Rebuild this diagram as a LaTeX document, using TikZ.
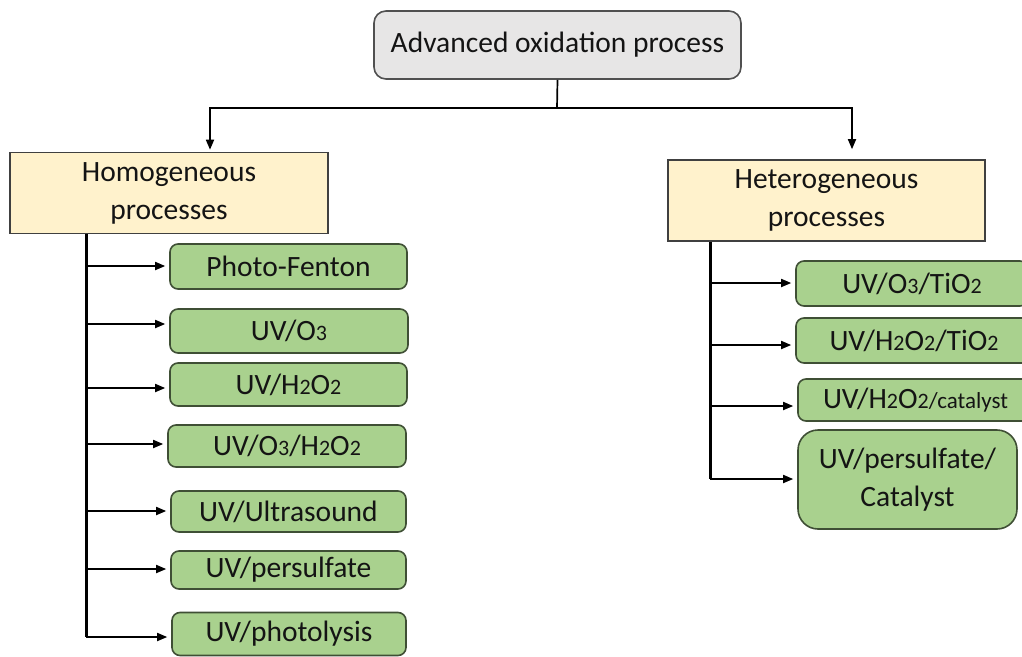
\documentclass[tikz,border=0pt]{standalone}
\usepackage{fontspec}
\setmainfont{Carlito}
\usetikzlibrary{arrows.meta}
\definecolor{grayfill}{HTML}{E7E6E6}
\definecolor{graybd}{HTML}{505050}
\definecolor{yel}{HTML}{FFF2CC}
\definecolor{yelbd}{HTML}{404040}
\definecolor{grn}{HTML}{A9D18E}
\definecolor{grnbd}{HTML}{3F4F35}
\definecolor{txt}{HTML}{141414}
\newcommand{\sm}[1]{{\fontsize{22}{22}\selectfont #1}}
\newcommand{\smc}[1]{{\fontsize{23}{23}\selectfont #1}}
\begin{document}
\begin{tikzpicture}[x=1pt,y=-1pt,
  base/.style={draw, line width=1.6pt, align=center, inner sep=0pt,
    font=\fontsize{29.5}{38}\selectfont, text=txt},
  topbox/.style={base, fill=grayfill, draw=graybd, rounded corners=12pt},
  catbox/.style={base, fill=yel, draw=yelbd},
  leaf/.style={base, fill=grn, draw=grnbd, rounded corners=8pt},
  conn/.style={line width=1.7pt, draw=black},
  arr/.style={conn, -{Triangle[length=10pt,width=8pt]}},
  spine/.style={line width=3pt, draw=black}]
\useasboundingbox (0,0) rectangle (1022,656);

% top
\node[topbox, minimum width=367pt, minimum height=68pt] (top) at (557.5,45) {Advanced oxidation process};

% categories
\node[catbox, minimum width=318pt, minimum height=81pt] (hom) at (169,193) {Homogeneous\\processes};
\node[catbox, minimum width=317pt, minimum height=81pt] (het) at (826.5,200.5) {Heterogeneous\\processes};

% junction
\coordinate (j) at (557,108);
\coordinate (hl) at (210,0);
\coordinate (hr) at (852,0);
\draw[conn] (top.south) -- (j);
\draw[arr, shorten >=2pt] (j) -| (hom.north -| hl);
\draw[arr, shorten >=10pt] (j) -| (het.north -| hr);

% left leaves
\node[leaf, minimum width=237pt, minimum height=45pt] (b1) at (288.5,266.5) {Photo-Fenton};
\node[leaf, minimum width=238pt, minimum height=44pt] (b2) at (289,331) {UV/O\sm{3}};
\node[leaf, minimum width=237pt, minimum height=43pt] (b3) at (288.5,384.5) {UV/H\sm{2}O\sm{2}};
\node[leaf, minimum width=238pt, minimum height=42pt] (b4) at (287,446) {UV/O\sm{3}/H\sm{2}O\sm{2}};
\node[leaf, minimum width=235pt, minimum height=41pt] (b5) at (288.5,511.5) {UV/Ultrasound};
\node[leaf, minimum width=235pt, minimum height=38pt] (b6) at (288.5,570) {UV/persulfate};
\node[leaf, minimum width=234pt, minimum height=43pt] (b7) at (289,634) {UV/photolysis};

% left spine and branches
\coordinate (ls) at (86,637);
\draw[spine] (hom.south -| ls) -- (ls);
\coordinate (la1) at (86,266);
\coordinate (la2) at (86,324);
\coordinate (la3) at (86,388);
\coordinate (la4) at (86,444);
\coordinate (la5) at (86,511);
\coordinate (la6) at (86,569);
\coordinate (la7) at (86,637);
\draw[arr, shorten >=4pt] (la1) -- (la1 -| b1.west);
\draw[arr, shorten >=4pt] (la2) -- (la2 -| b2.west);
\draw[arr, shorten >=4pt] (la3) -- (la3 -| b3.west);
\draw[arr, shorten >=4pt] (la4) -- (la4 -| b4.west);
\draw[arr, shorten >=4pt] (la5) -- (la5 -| b5.west);
\draw[arr, shorten >=4pt] (la6) -- (la6 -| b6.west);
\draw[arr, shorten >=4pt] (la7) -- (la7 -| b7.west);

% right leaves
\node[leaf, minimum width=232pt, minimum height=45pt] (r1) at (912,283.5) {UV/O\sm{3}/TiO\sm{2}};
\node[leaf, minimum width=236pt, minimum height=45pt] (r2) at (914,340.5) {UV/H\sm{2}O\sm{2}/TiO\sm{2}};
\node[leaf, minimum width=235pt, minimum height=42pt] (r3) at (915.5,400) {UV/H\sm{2}O\sm{2}\smc{/catalyst}};
\node[leaf, rounded corners=20pt, minimum width=219pt, minimum height=99pt] (r4) at (907.5,479.5) {UV/persulfate/\\Catalyst};

% right spine and branches
\coordinate (rs) at (710,479);
\draw[spine] (het.south -| rs) -- (rs);
\coordinate (ra1) at (710,283);
\coordinate (ra2) at (710,345);
\coordinate (ra3) at (710,406);
\coordinate (ra4) at (710,479);
\draw[arr, shorten >=4pt] (ra1) -- (ra1 -| r1.west);
\draw[arr, shorten >=4pt] (ra2) -- (ra2 -| r2.west);
\draw[arr, shorten >=4pt] (ra3) -- (ra3 -| r3.west);
\draw[arr, shorten >=4pt] (ra4) -- (ra4 -| r4.west);
\end{tikzpicture}
\end{document}
